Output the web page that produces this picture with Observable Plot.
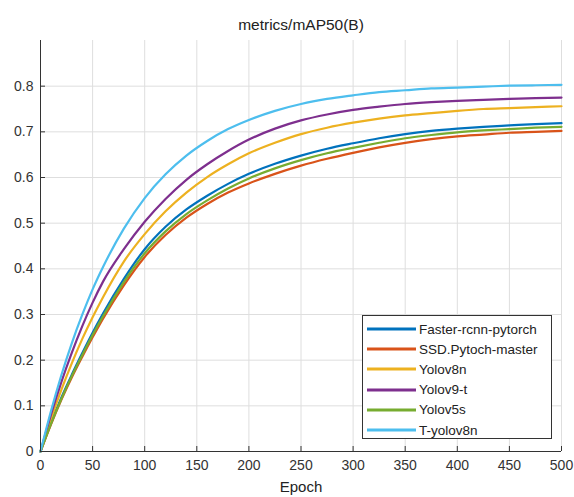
<!DOCTYPE html>
<html>
<head>
<meta charset="utf-8">
<script src="https://cdn.jsdelivr.net/npm/d3@7"></script>
<script src="https://cdn.jsdelivr.net/npm/@observablehq/plot@0.6"></script>
<style>
  html, body { margin: 0; padding: 0; background: #fff; }
  #wrap { position: relative; width: 574px; height: 497px; overflow: hidden; font-family: Arial, "Liberation Sans", Helvetica, sans-serif; }
  #legend { position: absolute; left: 362px; top: 315px; width: 190px; height: 124px; border: 1px solid #333; background: #fff; box-sizing: border-box; padding-top: 3px; }
  .row { display: flex; align-items: center; height: 20.2px; font-size: 13.5px; color: #222; }
  .row svg { margin-left: 4px; margin-right: 3px; }
</style>
</head>
<body>
<div id="wrap"></div>
<script>
const epochs = [0,10,20,30,40,50,60,80,100,120,140,160,180,200,225,250,275,300,325,350,375,400,425,450,475,500];
const seriesNames = ["Faster-rcnn-pytorch","SSD.Pytoch-master","Yolov8n","Yolov9-t","Yolov5s","T-yolov8n"];
const seriesColors = ["#0072BD","#D95319","#EDB120","#7E2F8E","#77AC30","#4DBEEE"];
const fasterRcnn = [0,0.062,0.118,0.168,0.215,0.260,0.302,0.378,0.443,0.492,0.530,0.560,0.586,0.608,0.630,0.648,0.663,0.675,0.686,0.695,0.702,0.707,0.711,0.714,0.717,0.719];
const ssd        = [0,0.059,0.113,0.162,0.207,0.250,0.291,0.364,0.426,0.474,0.512,0.542,0.567,0.587,0.608,0.626,0.641,0.654,0.666,0.676,0.684,0.690,0.694,0.698,0.700,0.702];
const yolov8n    = [0,0.071,0.135,0.193,0.246,0.294,0.338,0.416,0.476,0.526,0.567,0.601,0.629,0.653,0.676,0.695,0.709,0.720,0.729,0.736,0.741,0.746,0.750,0.752,0.754,0.756];
const yolov9t    = [0,0.080,0.152,0.216,0.274,0.326,0.372,0.443,0.503,0.553,0.595,0.629,0.658,0.683,0.707,0.725,0.738,0.748,0.755,0.761,0.765,0.768,0.770,0.772,0.774,0.775];
const yolov5s    = [0,0.060,0.115,0.165,0.211,0.255,0.296,0.371,0.434,0.482,0.520,0.550,0.576,0.598,0.620,0.638,0.653,0.665,0.676,0.686,0.693,0.699,0.703,0.706,0.709,0.711];
const tyolov8n   = [0,0.088,0.167,0.237,0.299,0.355,0.404,0.488,0.555,0.607,0.648,0.680,0.706,0.726,0.746,0.761,0.772,0.780,0.787,0.791,0.795,0.797,0.799,0.801,0.802,0.803];
const xTicks = [0,50,100,150,200,250,300,350,400,450,500];
const yTicks = [0,0.1,0.2,0.3,0.4,0.5,0.6,0.7,0.8];
const titleText = "metrics/mAP50(B)";
const xLabel = "Epoch";

const seriesValues = [fasterRcnn, ssd, yolov8n, yolov9t, yolov5s, tyolov8n];
const data = seriesNames.flatMap((name, i) => epochs.map((e, j) => ({series: name, epoch: e, value: seriesValues[i][j]})));

const ink = "#333";
const chart = Plot.plot({
  width: 574,
  height: 497,
  marginLeft: 40,
  marginRight: 13,
  marginTop: 40,
  marginBottom: 46,
  style: {fontFamily: "Arial, 'Liberation Sans', Helvetica, sans-serif", background: "#fff"},
  x: {domain: [0, 500]},
  y: {domain: [0, 0.9]},
  color: {domain: seriesNames, range: seriesColors},
  marks: [
    Plot.gridX(xTicks, {stroke: "#dedede", strokeOpacity: 1}),
    Plot.gridY(yTicks, {stroke: "#dedede", strokeOpacity: 1}),
    Plot.line(data, {x: "epoch", y: "value", z: "series", stroke: "series", curve: "monotone-x", strokeWidth: 2.2}),
    Plot.ruleX([0], {stroke: ink, strokeWidth: 1}),
    Plot.ruleY([0], {stroke: ink, strokeWidth: 1}),
    Plot.axisX({ticks: xTicks, tickSize: -5, tickPadding: 14, fontSize: 14, color: ink, label: null, tickFormat: d => String(d)}),
    Plot.axisY({ticks: yTicks, tickSize: -5, tickPadding: 12, fontSize: 14, color: ink, label: null, tickFormat: d => d === 0 ? "0" : d.toFixed(1)}),
    Plot.text([titleText], {text: d => d, frameAnchor: "top", dy: -22, fontSize: 15.5, fill: "#222"}),
    Plot.text([xLabel], {text: d => d, frameAnchor: "bottom", dy: 40, fontSize: 15, fill: "#222"})
  ]
});
const wrap = document.getElementById("wrap");
wrap.appendChild(chart);

const legend = document.createElement("div");
legend.id = "legend";
seriesNames.forEach((name, i) => {
  const row = document.createElement("div");
  row.className = "row";
  row.innerHTML = `<svg width="49" height="6"><line x1="0" y1="3" x2="49" y2="3" stroke="${seriesColors[i]}" stroke-width="3"/></svg><span>${name}</span>`;
  legend.appendChild(row);
});
wrap.appendChild(legend);
</script>
</body>
</html>
